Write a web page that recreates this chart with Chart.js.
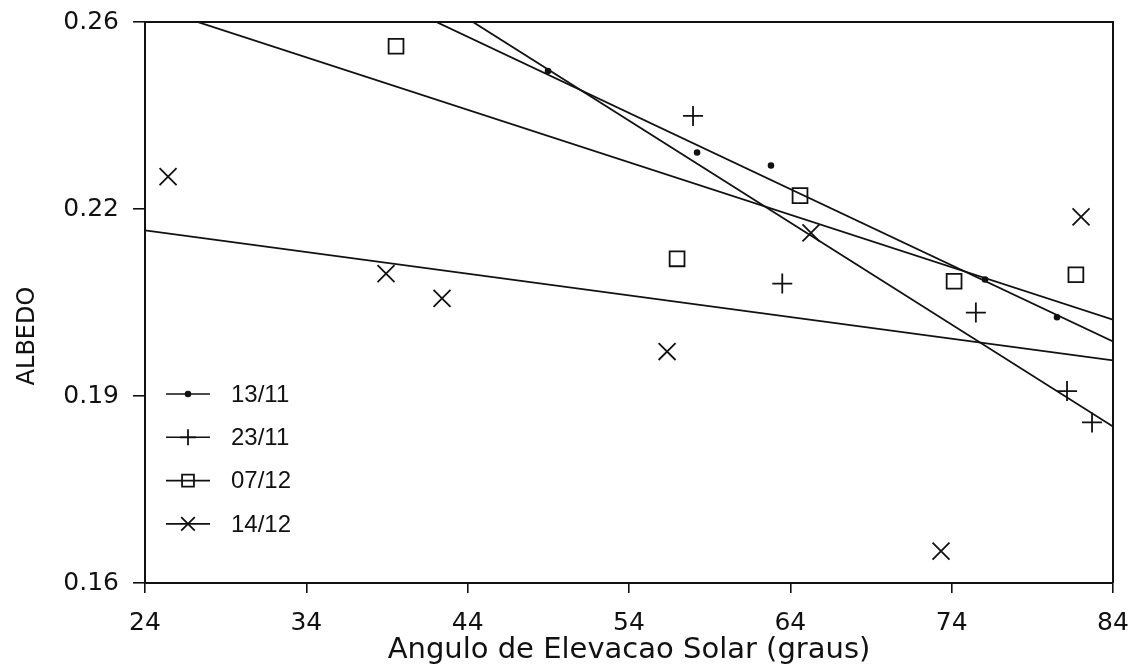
<!DOCTYPE html>
<html>
<head>
<meta charset="utf-8">
<script src="https://cdn.jsdelivr.net/npm/chart.js@4.4.1/dist/chart.umd.min.js"></script>
<style>
  html, body { margin: 0; padding: 0; background: #ffffff; }
  #wrap { width: 1135px; height: 668px; }
</style>
</head>
<body>
<div id="wrap"><canvas id="albedo" width="1135" height="668"></canvas></div>
<script>
// Measurement days
const seriesNames = ['13/11', '23/11', '07/12', '14/12'];

// Observed albedo versus solar elevation angle (degrees)
const x1311 = [48.98, 58.22, 62.80, 76.07, 80.53];
const y1311 = [0.2467, 0.2329, 0.2307, 0.2114, 0.2050];

const x2311 = [57.97, 63.50, 75.50, 81.15, 82.70];
const y2311 = [0.2391, 0.2107, 0.2058, 0.1925, 0.1872];

const x0712 = [39.56, 56.98, 64.60, 74.15, 81.70];
const y0712 = [0.2509, 0.2149, 0.2256, 0.2111, 0.2122];

const x1412 = [25.43, 38.94, 42.41, 56.36, 65.28, 73.34, 82.02];
const y1412 = [0.2288, 0.2124, 0.2082, 0.1992, 0.2193, 0.1654, 0.2220];

// Linear fits, evaluated at the ends of the angle range
const fitX = [24, 84];
const fit1311 = [0.2783, 0.2009];
const fit2311 = [0.2901, 0.1865];
const fit0712 = [0.2579, 0.2046];
const fit1412 = [0.2197, 0.1977];

// Axes
const xMin = 24, xMax = 84, xStep = 10;
const xTickLabels = ['24', '34', '44', '54', '64', '74', '84'];
const yMin = 0.16, yMax = 0.255;
const yTickLabels = ['0.16', '0.19', '0.22', '0.26'];

const AXIS_FONT = '"DejaVu Sans", Verdana, sans-serif';
const KEY_FONT = '"Liberation Sans", Arial, Helvetica, sans-serif';
const INK = '#111111';

const markers = [
  { style: 'circle',   radius: 2.4, fill: INK },
  { style: 'cross',    radius: 10,  fill: 'rgba(0,0,0,0)' },
  { style: 'rect',     radius: 10.5, fill: 'rgba(0,0,0,0)' },
  { style: 'crossRot', radius: 12,  fill: 'rgba(0,0,0,0)' }
];

const toPoints = (xs, ys) => xs.map((x, i) => ({ x: x, y: ys[i] }));
const pointSets = [toPoints(x1311, y1311), toPoints(x2311, y2311), toPoints(x0712, y0712), toPoints(x1412, y1412)];
const fitSets = [fit1311, fit2311, fit0712, fit1412].map(f => toPoints(fitX, f));

const datasets = [];
seriesNames.forEach((name, i) => {
  datasets.push({
    label: name + ' ajuste',
    data: fitSets[i],
    showLine: true,
    borderColor: INK,
    borderWidth: 1.8,
    pointRadius: 0,
    fill: false
  });
  datasets.push({
    label: name,
    data: pointSets[i],
    showLine: false,
    pointStyle: markers[i].style,
    pointRadius: markers[i].radius,
    pointBorderColor: INK,
    pointBackgroundColor: markers[i].fill,
    pointBorderWidth: 1.8
  });
});

// Frame around the plotting area
const framePlugin = {
  id: 'frame',
  afterDatasetsDraw(chart) {
    const a = chart.chartArea, ctx = chart.ctx;
    ctx.save();
    ctx.strokeStyle = INK;
    ctx.lineWidth = 2;
    ctx.beginPath();
    ctx.moveTo(a.left, a.top);
    ctx.lineTo(a.right, a.top);
    ctx.lineTo(a.right, a.bottom);
    ctx.stroke();
    ctx.restore();
  }
};

// Key in the lower-left corner of the plot, plus the vertical axis title
const keyPlugin = {
  id: 'key',
  afterDraw(chart) {
    const ctx = chart.ctx, a = chart.chartArea;
    ctx.save();
    const x0 = a.left + 21, x1 = a.left + 65, xm = (x0 + x1) / 2;
    const yStart = a.top + 372, gap = 43.3;
    ctx.font = '24px ' + KEY_FONT;
    ctx.textBaseline = 'middle';
    ctx.textAlign = 'left';
    seriesNames.forEach((name, i) => {
      const y = yStart + i * gap;
      ctx.strokeStyle = INK;
      ctx.lineWidth = 1.6;
      ctx.beginPath();
      ctx.moveTo(x0, y);
      ctx.lineTo(x1, y);
      ctx.stroke();
      ctx.fillStyle = markers[i].fill;
      ctx.strokeStyle = INK;
      ctx.lineWidth = 1.8;
      Chart.helpers.drawPoint(ctx, {
        pointStyle: markers[i].style,
        radius: i === 0 ? 2.4 : markers[i].radius * 0.8,
        rotation: 0,
        borderWidth: 1.8
      }, xm, y);
      ctx.fillStyle = INK;
      ctx.fillText(name, a.left + 86, y + 1);
    });

    ctx.translate(28, 336);
    ctx.rotate(-Math.PI / 2);
    ctx.textAlign = 'center';
    ctx.font = '24px ' + AXIS_FONT;
    ctx.fillText('ALBEDO', 0, 0);
    ctx.restore();
  }
};

new Chart(document.getElementById('albedo'), {
  type: 'scatter',
  data: { datasets: datasets },
  options: {
    responsive: false,
    animation: false,
    devicePixelRatio: 1,
    layout: { padding: { top: 22, right: 22, left: 0, bottom: 0 } },
    plugins: { legend: { display: false }, tooltip: { enabled: false } },
    scales: {
      x: {
        type: 'linear',
        min: xMin, max: xMax,
        afterFit(scale) { scale.height = 85; scale.paddingLeft = 0; scale.paddingRight = 0; },
        ticks: {
          stepSize: xStep,
          color: INK,
          font: { family: AXIS_FONT, size: 25 },
          padding: 15,
          callback: (v, i) => xTickLabels[i]
        },
        grid: { drawOnChartArea: false, drawTicks: true, tickLength: 10, color: INK, lineWidth: 1.6 },
        border: { display: true, color: INK, width: 2 },
        title: {
          display: true,
          text: 'Angulo de Elevacao Solar (graus)',
          color: INK,
          font: { family: AXIS_FONT, size: 29 },
          padding: { top: 0, bottom: 0 }
        }
      },
      y: {
        type: 'linear',
        min: yMin, max: yMax,
        afterFit(scale) { scale.width = 145; scale.paddingTop = 0; scale.paddingBottom = 0; },
        afterBuildTicks(scale) {
          const n = yTickLabels.length;
          scale.ticks = yTickLabels.map((_, i) => ({ value: yMin + i * (yMax - yMin) / (n - 1) }));
        },
        ticks: {
          color: INK,
          font: { family: AXIS_FONT, size: 25 },
          padding: 14,
          callback: (v, i) => yTickLabels[i]
        },
        grid: { drawOnChartArea: false, drawTicks: true, tickLength: 12, color: INK, lineWidth: 1.6 },
        border: { display: true, color: INK, width: 2 }
      }
    }
  },
  plugins: [framePlugin, keyPlugin]
});
</script>
</body>
</html>
